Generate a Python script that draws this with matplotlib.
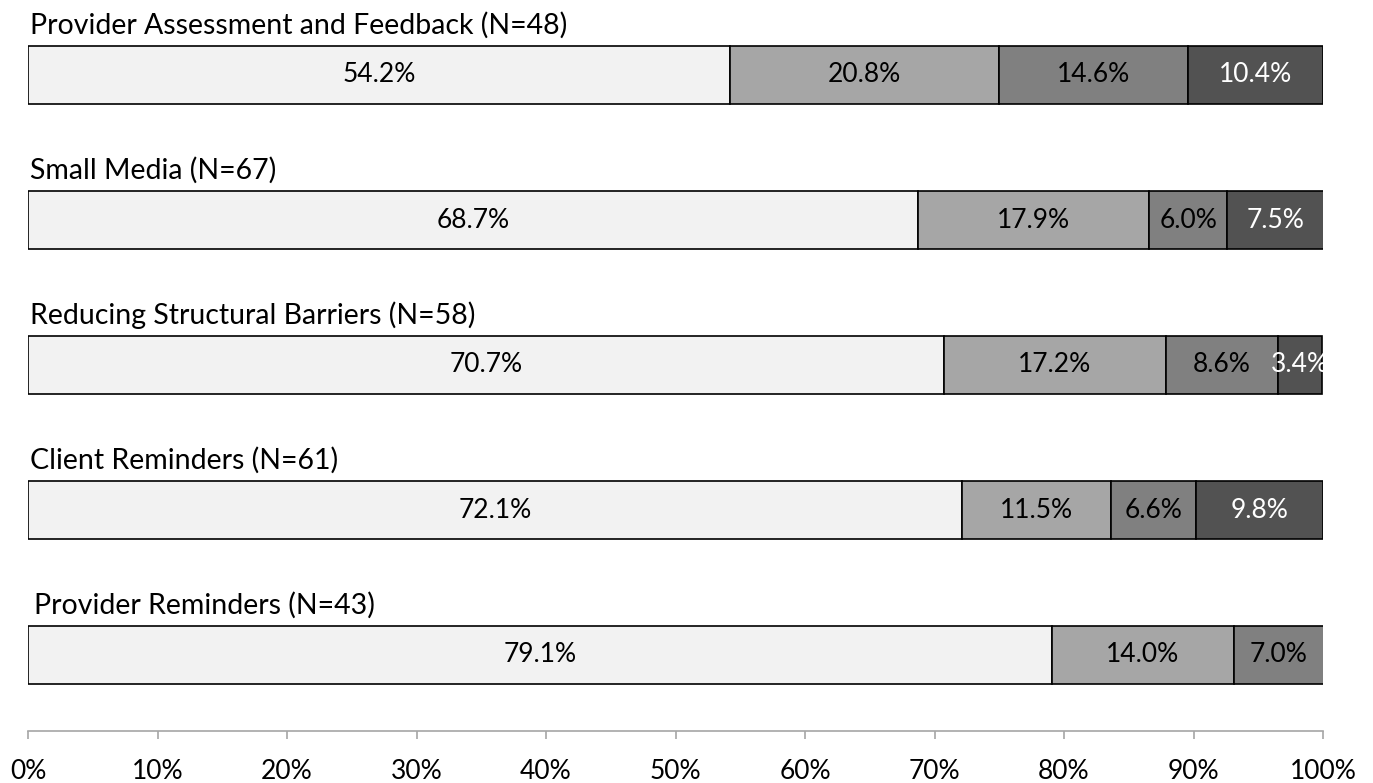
import matplotlib
matplotlib.use("Agg")
import matplotlib.pyplot as plt
import numpy as np

categories = [
    "Provider Assessment and Feedback (N=48)",
    "Small Media (N=67)",
    "Reducing Structural Barriers (N=58)",
    "Client Reminders (N=61)",
    "Provider Reminders (N=43)",
]
seg1 = [54.2, 68.7, 70.7, 72.1, 79.1]
seg2 = [20.8, 17.9, 17.2, 11.5, 14.0]
seg3 = [14.6, 6.0, 8.6, 6.6, 7.0]
seg4 = [10.4, 7.5, 3.4, 9.8, 0.0]
tick_values = [0, 10, 20, 30, 40, 50, 60, 70, 80, 90, 100]

seg_colors = ["#f2f2f2", "#a6a6a6", "#808080", "#525252"]
text_colors = ["#000000", "#000000", "#000000", "#ffffff"]

plt.rcParams['font.family'] = ['Lato', 'DejaVu Sans']

W, H = 1373, 783
fig = plt.figure(figsize=(W / 100, H / 100), dpi=100)
left = 28 / W
right = 1323 / W
bottom = 1 - 731 / H
ax = fig.add_axes([left, bottom, right - left, 731 / H])

y = np.arange(len(categories))
bar_h = 58 / 145
series = [seg1, seg2, seg3, seg4]
lefts = np.zeros(len(categories))
for vals, col, tcol in zip(series, seg_colors, text_colors):
    vals = np.array(vals)
    ax.barh(y, vals, left=lefts, height=bar_h, color=col,
            edgecolor="black", linewidth=1.2)
    for yi, (l, v) in enumerate(zip(lefts, vals)):
        if v > 0:
            ax.text(l + v / 2, yi, f"{v:.1f}%", ha="center", va="center",
                    fontsize=19, color=tcol)
    lefts = lefts + vals

for yi, cat in enumerate(categories):
    dx = 0.5 if yi == 4 else 0.15
    ax.text(dx, yi - bar_h / 2 - 0.085, cat, ha="left", va="baseline",
            fontsize=20.5, color="black")

ax.set_xlim(0, 100)
ax.set_ylim(0 + (731 - 75) / 145, 0 - 75 / 145)
ax.set_xticks(tick_values)
ax.set_xticklabels([f"{t}%" for t in tick_values], fontsize=19)
ax.set_yticks([])
for s in ["top", "right", "left"]:
    ax.spines[s].set_visible(False)
ax.spines["bottom"].set_color("#a6a6a6")
ax.spines["bottom"].set_linewidth(1.2)
ax.tick_params(axis="x", length=6, width=1.2, color="#a6a6a6", pad=14)

fig.savefig("out.png", dpi=100)
